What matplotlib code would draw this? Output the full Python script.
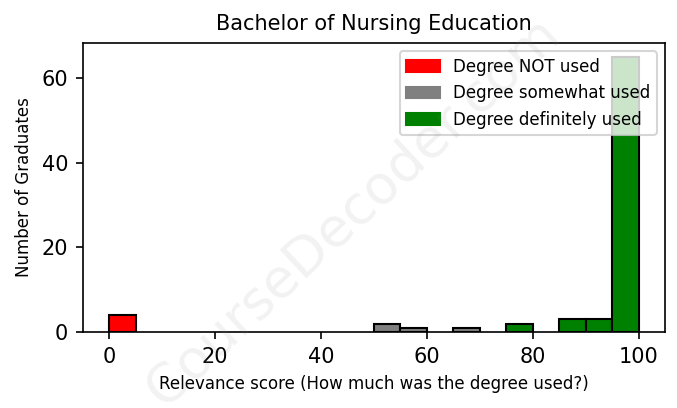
import matplotlib
matplotlib.use("Agg")
import matplotlib.pyplot as plt
from matplotlib.patches import Patch

# histogram bins (left edges, width 5) and counts
bin_left = [0, 50, 55, 65, 75, 85, 90, 95]
counts = [4, 2, 1, 1, 2, 3, 3, 65]
bar_colors = ["red", "gray", "gray", "gray", "green", "green", "green", "green"]

legend_labels = ["Degree NOT used", "Degree somewhat used", "Degree definitely used"]
legend_colors = ["red", "gray", "green"]

dpi = 150
fig = plt.figure(figsize=(678 / dpi, 408 / dpi), dpi=dpi)
ax = fig.add_axes([0.122, 0.186, 0.859, 0.709])

ax.bar(bin_left, counts, width=5, align="edge", color=bar_colors,
       edgecolor="black", linewidth=1.0)

ax.set_title("Bachelor of Nursing Education", fontsize=10)
ax.set_xlabel("Relevance score (How much was the degree used?)", fontsize=8)
ax.set_ylabel("Number of Graduates", fontsize=8)
ax.tick_params(labelsize=10)
ax.set_yticks([0, 20, 40, 60])

handles = [Patch(color=c, label=l) for c, l in zip(legend_colors, legend_labels)]
ax.legend(handles=handles, loc="upper right", fontsize=8)

# watermark
fig.text(0.52, 0.48, "CourseDecoder.com", fontsize=26, color="gray",
         alpha=0.1, rotation=43, ha="center", va="center")

fig.savefig("out.png", dpi=dpi)
